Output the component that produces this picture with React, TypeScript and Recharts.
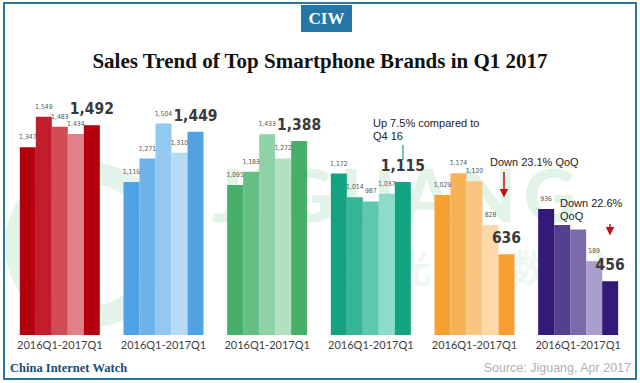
import React from 'react';
import { BarChart, Bar, XAxis, YAxis, Cell, LabelList } from 'recharts';

const brands = ['Brand 1', 'Brand 2', 'Brand 3', 'Brand 4', 'Brand 5', 'Brand 6'];
const sales2016Q1 = [1347, 1116, 1095, 1172, 1029, 936];
const sales2016Q2 = [1549, 1271, 1183, 1014, 1174, 830];
const sales2016Q3 = [1483, 1504, 1433, 987, 1120, 800];
const sales2016Q4 = [1434, 1310, 1272, 1037, 828, 589];
const sales2017Q1 = [1492, 1449, 1388, 1115, 636, 456];
const tickLabel = '2016Q1-2017Q1';
const seriesKeys = ['s16q1', 's16q2', 's16q3', 's16q4', 's17q1'];
const seriesValues = [sales2016Q1, sales2016Q2, sales2016Q3, sales2016Q4, sales2017Q1];
// labels not printed in the reference: [brandIndex, seriesIndex]
const hiddenLabels = [[5, 1], [5, 2]];

const palettes = [
  ['#b4000a', '#c21d2a', '#d14c54', '#e08087', '#b4000a'],
  ['#4fa2e3', '#6db3ea', '#93c8f0', '#b6daf4', '#4fa2e3'],
  ['#48af6b', '#66be84', '#8fd2a6', '#b2e1c1', '#48af6b'],
  ['#12a383', '#33b596', '#5dc8b0', '#8cdcc9', '#12a383'],
  ['#f7a02f', '#f8b256', '#fac67f', '#fcd9a7', '#f7a02f'],
  ['#331a78', '#534190', '#7b6bab', '#a79eca', '#331a78'],
];

const data = brands.map((b, i) => {
  const row: any = { brand: b };
  seriesKeys.forEach((k, s) => { row[k] = seriesValues[s][i]; });
  return row;
});

const fmt = (v: number) => v.toLocaleString('en-US');
const narrow = '"Liberation Sans Narrow", "DejaVu Sans Condensed", sans-serif';

const makeLabel = (s: number) => (props: any) => {
  const { x, y, width, value, index } = props;
  if (hiddenLabels.some(([b, si]) => b === index && si === s)) return null;
  const cx = x + width / 2;
  if (s === 4) {
    return (
      <text x={cx} y={y - 11} textAnchor="middle" fontSize={15.5} fontWeight="bold"
        fill="#3a3a3a" fontFamily={narrow}>
        {fmt(value)}
      </text>
    );
  }
  return (
    <text x={cx} y={y - 8} textAnchor="middle" fontSize={6.8}
      fill="#595959" fontFamily={narrow}>
      {fmt(value)}
    </text>
  );
};

const Tick = (props: any) => {
  const { x, y } = props;
  return (
    <text x={x} y={y} dy={6} textAnchor="middle" fontSize={11} fill="#404040"
      fontFamily='Lato, "Open Sans", sans-serif'>
      {tickLabel}
    </text>
  );
};

export default function App() {
  return (
    <div style={{ position: 'absolute', left: 0, top: 0, width: 640, height: 383, background: '#fff', overflow: 'hidden' }}>
      <svg width={640} height={383} style={{ position: 'absolute', left: 0, top: 0 }}>
        <circle cx={88} cy={245} r={72} fill="none" stroke="#e4f4ea" strokeWidth={22} />
        <text x={212} y={222} fontFamily="Lato, sans-serif" fontWeight={900} fontSize={72}
          fill="#e2f3e8" letterSpacing={8}>JIGUANG</text>
        <text x={335} y={282} fontFamily='"Noto Sans CJK SC", sans-serif' fontWeight="bold" fontSize={38}
          fill="#eef8f2" letterSpacing={20}>极光大数据</text>
      </svg>
      <div style={{ position: 'absolute', left: 3, top: 2, width: 634, height: 378, border: '2px solid #2a78a6', boxSizing: 'border-box' }} />
      <div style={{ position: 'absolute', left: 301, top: 5, width: 51, height: 27, background: '#2676a5', color: '#fff', fontFamily: '"Liberation Serif", serif', fontWeight: 'bold', fontSize: 17, textAlign: 'center', lineHeight: '27px' }}>
        CIW
      </div>
      <div style={{ position: 'absolute', left: 0, top: 49, width: 640, textAlign: 'center', fontFamily: '"Liberation Serif", serif', fontWeight: 'bold', fontSize: 21, color: '#111' }}>
        Sales Trend of Top Smartphone Brands in Q1 2017
      </div>
      <div style={{ position: 'absolute', left: 0, top: 0 }}>
        <BarChart width={640} height={383} data={data}
          margin={{ top: 100, right: 10, bottom: 28, left: 8 }}
          barCategoryGap="11.4%" barGap={0}>
          <XAxis dataKey="brand" height={20} axisLine={false} tickLine={false} tick={<Tick />} interval={0} />
          <YAxis hide domain={[100, 1660]} allowDataOverflow />
          {seriesKeys.map((k, s) => (
            <Bar key={k} dataKey={k} isAnimationActive={false}>
              {data.map((_, i) => (
                <Cell key={i} fill={palettes[i][s]} />
              ))}
              <LabelList dataKey={k} content={makeLabel(s)} />
            </Bar>
          ))}
        </BarChart>
      </div>
      <svg width={640} height={383} style={{ position: 'absolute', left: 0, top: 0, pointerEvents: 'none' }}>
        <defs>
          <marker id="arr" markerWidth="6" markerHeight="6" refX="3" refY="3" orient="auto">
            <path d="M0,0 L6,3 L0,6 Z" fill="#c0101a" />
          </marker>
        </defs>
        <g fontFamily='"Liberation Sans", Arial, sans-serif' fontSize={11} fill="#222">
          <text x={373} y={127}>Up 7.5% compared to</text>
          <text x={373} y={140}>Q4 16</text>
          <text x={490} y={166}>Down 23.1% QoQ</text>
          <text x={560} y={207}>Down 22.6%</text>
          <text x={560} y={220}>QoQ</text>
        </g>
        <line x1={403} y1={145} x2={403} y2={160} stroke="#3cb59a" strokeWidth={1.5} />
        <line x1={504} y1={172} x2={504} y2={193} stroke="#c0101a" strokeWidth={1.5} markerEnd="url(#arr)" />
        <line x1={610} y1={224} x2={610} y2={231} stroke="#c0101a" strokeWidth={1.5} markerEnd="url(#arr)" />
        <text x={10} y={372} fontFamily='"Liberation Serif", serif' fontWeight="bold" fontSize={12.5} fill="#1b4a74">China Internet Watch</text>
        <text x={631} y={372} textAnchor="end" fontFamily='"Liberation Sans", Arial, sans-serif' fontSize={12.5} fill="#b0b0b0">Source: Jiguang, Apr 2017</text>
      </svg>
    </div>
  );
}
